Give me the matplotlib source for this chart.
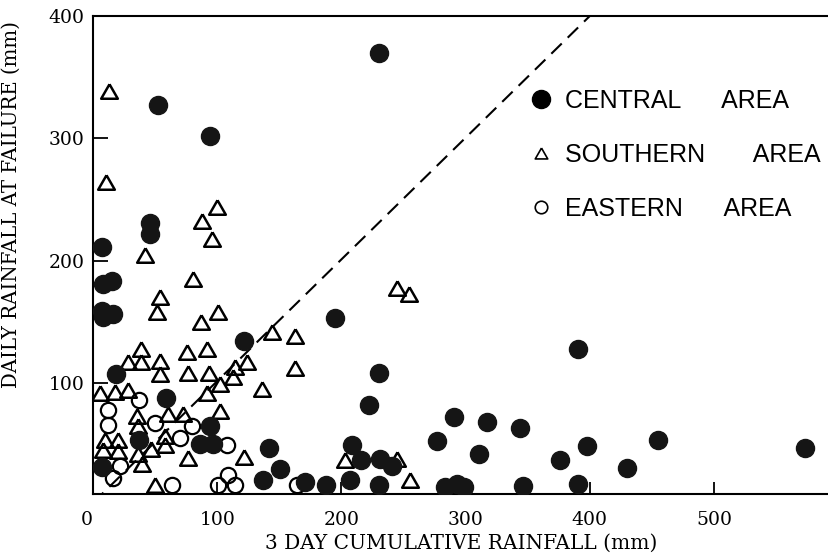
import matplotlib
matplotlib.use("Agg")
import matplotlib.pyplot as plt
from matplotlib.lines import Line2D

# central area (filled circles): 3-day cumulative rainfall, daily rainfall at failure
central_x = [52.6, 94.2, 45.9, 45.9, 7.0, 8.3, 15.0, 7.0, 8.3, 16.3, 121.5, 18.5,
             58.5, 94.5, 86.0, 96.8, 37.3, 141.7, 150.6, 137.0, 7.0, 170.7,
             230.5, 195.0, 390.6, 230.5, 222.6, 291.0, 317.0, 344.0, 277.0,
             310.8, 375.7, 397.7, 455.0, 573.5, 430.0, 208.5, 215.5, 231.0,
             240.4, 207.0, 230.5, 187.3, 283.3, 293.2, 298.9, 346.4, 390.6]
central_y = [327, 302, 231, 222, 211, 181, 183, 159, 154, 156.5, 134.5, 107,
             87.6, 64.5, 50.3, 50.3, 53, 47, 30, 20.4, 31.3, 19,
             370, 153, 128, 108, 82, 72, 67.8, 63, 52.5,
             41.6, 37.3, 48.2, 53, 46.8, 30.2, 49, 36.7, 38.2,
             32.5, 21, 16.7, 16.2, 15.3, 17.3, 15.3, 15.8, 17.3]

# southern area (open triangles)
southern_x = [12.9, 10.5, 99.6, 87.5, 96.0, 42.0, 80.8, 54.0, 51.8, 101.0, 86.7,
              144.0, 163.0, 163.0, 39.0, 28.4, 39.0, 54.0, 54.0, 76.0, 91.5,
              76.7, 93.0, 123.8, 114.0, 112.5, 102.0, 135.8, 91.5, 6.0, 17.7,
              28.4, 102.0, 72.7, 60.3, 35.5, 36.0, 58.0, 58.0, 9.7, 20.4, 8.3,
              20.4, 46.5, 36.0, 39.8, 76.7, 121.7, 50.0, 244.5, 254.7, 203.0,
              244.6, 255.0]
southern_y = [339, 264, 243.5, 232, 218, 205, 185, 170, 158, 158, 150,
              142, 138, 112, 128, 117, 117, 118, 107, 125, 127.5,
              108.5, 108.5, 117, 113, 105, 99.5, 94.7, 91.5, 92, 93,
              94.2, 77, 75, 75, 73, 64.5, 57, 49, 53, 53, 45,
              44.5, 46, 42, 33.5, 38.7, 39.7, 16.3, 178, 172.7, 36.7,
              38.2, 21]

# eastern area (open circles)
eastern_x = [37.0, 12.3, 12.3, 50.0, 79.5, 70.0, 108.0, 22.0, 16.4, 64.0,
             108.3, 101.0, 114.3, 164.0]
eastern_y = [86, 78, 65.5, 67, 64.5, 55, 49, 32, 22.5, 16.3,
             24.5, 16.3, 16.3, 16.3]

# dashed boundary line
line_x = [0, 400]
line_y = [2, 400]

x_ticks = [0, 100, 200, 300, 400, 500]
y_ticks = [100, 200, 300, 400]

labels = ["CENTRAL      AREA", "SOUTHERN       AREA", "EASTERN      AREA"]

serif = "DejaVu Serif"
sans = "Liberation Sans"

fig = plt.figure(figsize=(8.29, 5.54), dpi=100)
ax = fig.add_axes([0.1122, 0.1083, 0.8878, 0.8628])

tri = [(0, 0.87), (-1, -0.87), (1, -0.87), (0, 0.87)]

ax.plot(line_x, line_y, color="black", lw=1.5, dashes=(7, 4), zorder=1)
ax.plot(southern_x, southern_y, ls="none", marker=tri, ms=12, mfc="none",
        mec="black", mew=1.8, zorder=2)
ax.plot(eastern_x, eastern_y, ls="none", marker="o", ms=11, mfc="none",
        mec="black", mew=1.6, zorder=3)
ax.plot(central_x, central_y, ls="none", marker="o", ms=13, mfc="#151515",
        mec="#151515", zorder=4)

ax.set_xlim(0, 592.6)
ax.set_ylim(9.2, 400)
ax.set_xticks(x_ticks)
ax.set_xticklabels([str(v) for v in x_ticks], fontfamily=serif, fontsize=13.5)
ax.get_xticklabels()[0].set_ha("right")
ax.set_yticks(y_ticks)
ax.set_yticklabels([str(v) for v in y_ticks], fontfamily=serif, fontsize=13.5)
ax.tick_params(axis="x", direction="in", length=9, width=1.3, pad=12)
ax.tick_params(axis="y", direction="in", length=11, width=1.3, pad=6)

for side in ["top", "bottom", "left"]:
    ax.spines[side].set_linewidth(1.5)
ax.spines["right"].set_visible(False)

ax.set_xlabel("3 DAY CUMULATIVE RAINFALL (mm)", fontfamily=serif, fontsize=14.5)
ax.xaxis.set_label_coords(0.5, -0.083)
ax.set_ylabel("DAILY RAINFALL AT FAILURE (mm)", fontfamily=serif, fontsize=14.2)
ax.yaxis.set_label_coords(-0.098, 0.605)

handles = [
    Line2D([], [], ls="none", marker="o", ms=13, mfc="black", mec="black"),
    Line2D([], [], ls="none", marker=tri, ms=9, mfc="none", mec="black", mew=1.2),
    Line2D([], [], ls="none", marker="o", ms=9, mfc="none", mec="black", mew=1.2),
]
ax.legend(handles, labels, loc="upper left", bbox_to_anchor=(0.592, 0.848),
          frameon=False, prop={"family": sans, "size": 18},
          handlelength=1.0, handletextpad=0.45, labelspacing=1.2,
          borderpad=0, borderaxespad=0)

fig.savefig("out.png", dpi=100)
plt.close(fig)
